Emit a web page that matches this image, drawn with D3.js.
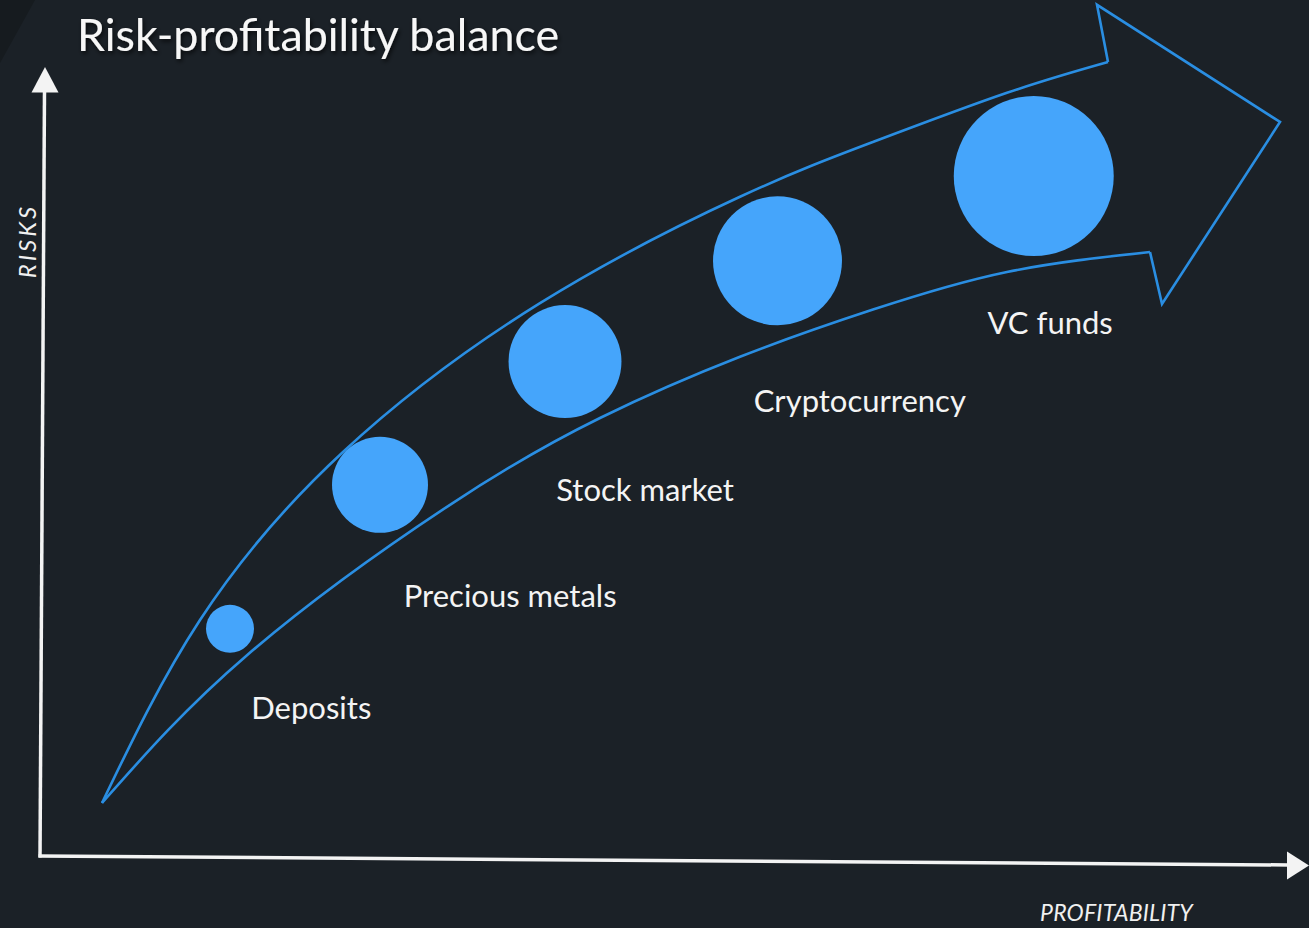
<!DOCTYPE html>
<html>
<head>
<meta charset="utf-8">
<script src="https://cdn.jsdelivr.net/npm/d3@7"></script>
<style>
  html, body { margin: 0; padding: 0; background: #1b2127; overflow: hidden; }
  svg { display: block; }
</style>
</head>
<body>
<script>
// ---------- data ----------
const categories    = ["Deposits", "Precious metals", "Stock market", "Cryptocurrency", "VC funds"];
const profitability = [15.2, 27.2, 42.0, 59.0, 79.5];
const risk          = [28.9, 46.9, 62.3, 74.9, 85.5];
const bubbleSize    = [30, 60, 70.6, 80.6, 100];
const labelProfit   = [16.9, 29.1, 41.3, 57.1, 75.8];
const labelRisk     = [17.6, 31.6, 44.9, 56.0, 65.75];

// arrow band (in profitability / risk units)
const upperX = [4.96, 12.8, 24.24, 40.0, 56.0, 66.64, 77.36, 85.44];
const upperY = [7.13, 30.0, 51.0, 69.6, 82.9, 89.75, 95.9, 99.75];
const lowerX = [4.96, 16.56, 32.8, 44.8, 56.0, 66.64, 77.36, 88.8];
const lowerY = [7.13, 25.6, 44.4, 55.25, 62.9, 68.8, 73.5, 76.0];
const headX  = [85.44, 84.56, 99.2, 89.76, 88.8];
const headY  = [99.75, 106.9, 92.25, 69.5, 76.0];

const titleText = "Risk-profitability balance";
const yAxisLabel = "RISKS";
const xAxisLabel = "PROFITABILITY";

// ---------- drawing ----------
const W = 1309, H = 928;
const svg = d3.select("body").append("svg").attr("width", W).attr("height", H);

const defs = svg.append("defs");
const f = defs.append("filter").attr("id", "shadow").attr("x", "-10%").attr("y", "-30%").attr("width", "120%").attr("height", "160%");
f.append("feDropShadow").attr("dx", 1.5).attr("dy", 2.5).attr("stdDeviation", 2).attr("flood-color", "#000").attr("flood-opacity", 0.7);

svg.append("rect").attr("width", W).attr("height", H).attr("fill", "#1b2127");
svg.append("polygon").attr("points", "0,0 35,0 0,63").attr("fill", "#161b1f");

const x = d3.scaleLinear().domain([0, 100]).range([40, 1290]);
const y = d3.scaleLinear().domain([0, 100]).range([860, 60]);
const r = d3.scaleLinear().domain([0, 100]).range([0, 80]);

// axes
const axisColor = "#f3f3f3";
const origin = [40, 856];
const g = svg.append("g");
g.append("line").attr("x1", origin[0]).attr("y1", origin[1] + 1.5).attr("x2", 44.5).attr("y2", 90)
  .attr("stroke", axisColor).attr("stroke-width", 3.5);
g.append("polygon").attr("points", "45,67 31.5,92.5 58.5,92.5").attr("fill", axisColor);
g.append("line").attr("x1", origin[0] - 1.5).attr("y1", origin[1]).attr("x2", 1289).attr("y2", 865)
  .attr("stroke", axisColor).attr("stroke-width", 3.5);
g.append("polygon").attr("points", "1309,865.5 1287,851.5 1287,879.5").attr("fill", axisColor);

svg.append("text").attr("transform", "translate(36,241) rotate(-90)")
  .attr("text-anchor", "middle").attr("font-family", "Lato, sans-serif").attr("font-style", "italic")
  .attr("font-size", 24).attr("letter-spacing", 3).attr("fill", "#f0f0f0").text(yAxisLabel);
svg.append("text").attr("x", 1040).attr("y", 921)
  .attr("font-family", "Lato, sans-serif").attr("font-style", "italic")
  .attr("font-size", 23).attr("letter-spacing", 0.2).attr("fill", "#f0f0f0").text(xAxisLabel);

// arrow band
const line = d3.line().x(d => x(d[0])).y(d => y(d[1])).curve(d3.curveNatural);
const upperPts = upperX.map((v, i) => [v, upperY[i]]);
const lowerPts = lowerX.map((v, i) => [v, lowerY[i]]);
const headPts = headX.map((v, i) => [v, headY[i]]);
const arrowStroke = "#2a8ee2";
svg.append("path").attr("d", line(upperPts)).attr("fill", "none").attr("stroke", arrowStroke).attr("stroke-width", 2.6);
svg.append("path").attr("d", line(lowerPts)).attr("fill", "none").attr("stroke", arrowStroke).attr("stroke-width", 2.6);
svg.append("path").attr("d", d3.line().x(d => x(d[0])).y(d => y(d[1]))(headPts))
  .attr("fill", "none").attr("stroke", arrowStroke).attr("stroke-width", 2.6).attr("stroke-linejoin", "miter");

// bubbles
const data = categories.map((c, i) => ({
  name: c, px: profitability[i], ry: risk[i], s: bubbleSize[i], lx: labelProfit[i], ly: labelRisk[i]
}));
svg.append("g").selectAll("circle").data(data).join("circle")
  .attr("cx", d => x(d.px)).attr("cy", d => y(d.ry)).attr("r", d => r(d.s))
  .attr("fill", "#45a5fb");

svg.append("g").selectAll("text").data(data).join("text")
  .attr("x", d => x(d.lx)).attr("y", d => y(d.ly))
  .attr("font-family", "Lato, sans-serif").attr("font-size", 31).attr("fill", "#f4f4f4")
  .text(d => d.name);

// title
svg.append("text").attr("x", 77).attr("y", 51)
  .attr("font-family", "Lato, sans-serif").attr("font-size", 44.8).attr("fill", "#f7f7f7")
  .attr("filter", "url(#shadow)").text(titleText);
</script>
</body>
</html>
